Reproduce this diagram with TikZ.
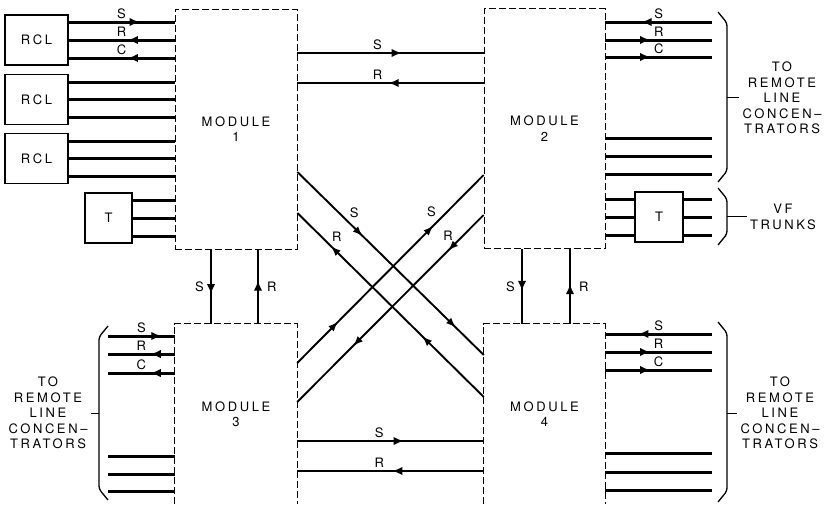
\documentclass[tikz,border=0pt]{standalone}
\usepackage{fontspec}
\setmainfont{TeX Gyre Heros}[LetterSpace=20]
\usetikzlibrary{arrows.meta,decorations.markings}

\begin{document}
\begin{tikzpicture}[x=1pt,y=-1pt, every node/.style={font=\fontsize{13}{15.5}\selectfont},
  module/.style={draw,dash pattern=on 7pt off 3pt,line width=0.8pt,minimum
  width=122pt,align=center}, box/.style={draw,line width=1.1pt,minimum
  width=63pt,minimum height=50pt}, tbox/.style={box,minimum width=47pt},
  feed/.style={line width=3pt}, link/.style={line width=2.3pt},
  cross/.style={line width=1.9pt},
  marr/.style={postaction={decorate},decoration={markings,mark=at position #1
  with {\arrow{Latex[length=10pt,width=8.5pt]}}}},
  marr2/.style 2 args={postaction={decorate},decoration={markings,mark=at
  position #1 with {\arrow{Latex[length=10pt,width=7.5pt]}},mark=at position #2
  with {\arrow{Latex[length=10pt,width=7.5pt]}}}}, lab/.style={inner sep=2pt},
  brc/.style={line width=1.3pt,rounded corners=3pt},
  note/.style={align=center}]
  \useasboundingbox (0,0) rectangle (830,504);
  \node[module,minimum height=240pt] (mod1) at (236,129) {MODULE\\1};
  \node[module,minimum height=240pt,minimum width=121pt] (mod2) at (544.5,128.5) {MODULE\\2};
  \node[align=center,minimum width=122pt,minimum height=180pt] (mod3) at (236,414) {MODULE\\3};
  \node[align=center,minimum width=121pt,minimum height=180pt] (mod4) at (544.5,414) {MODULE\\4};
  \draw[dash pattern=on 7pt off 3pt,line width=0.8pt] (mod3.south west) -- (mod3.north west) -- (mod3.north east) -- (mod3.south east);
  \draw[dash pattern=on 7pt off 3pt,line width=0.8pt] (mod4.south west) -- (mod4.north west) -- (mod4.north east) -- (mod4.south east);
  \node[box] (rcl1) at (36.5,40) {RCL}; \node[box] (rcl2) at (36.5,99.5) {RCL};
  \node[box] (rcl3) at (36.5,158.5) {RCL}; \node[tbox] (tb1) at (108.5,218) {T};
  \node[tbox,minimum width=48pt] (tb2) at (659,217) {T};
  \coordinate (ra) at (712,0); \coordinate (la) at (108,0);
  \draw[feed,marr=0.67] (rcl1.east |- 0,22) -- node[lab,above] {S} (mod1.west |- 0,22);
  \draw[feed,marr=0.44] (mod1.west |- 0,40) -- node[lab,above] {R} (rcl1.east |- 0,40);
  \draw[feed,marr=0.44] (mod1.west |- 0,58) -- node[lab,above] {C} (rcl1.east |- 0,58);
  \foreach \y in {82,99,117} \draw[feed] (rcl2.east |- 0,\y) -- (mod1.west |- 0,\y);
  \foreach \y in {141,158,176} \draw[feed] (rcl3.east |- 0,\y) -- (mod1.west |- 0,\y);
  \foreach \y in {200,218,236} \draw[feed] (tb1.east |- 0,\y) -- (mod1.west |- 0,\y);
  \draw[feed,marr=0.66] (ra |- 0,22) -- node[lab,above] {S} (mod2.east |- 0,22);
  \draw[feed,marr=0.42] (mod2.east |- 0,40) -- node[lab,above] {R} (ra |- 0,40);
  \draw[feed,marr=0.42] (mod2.east |- 0,57) -- node[lab,above] {C} (ra |- 0,57);
  \foreach \y in {138,156,174} \draw[feed] (mod2.east |- 0,\y) -- (ra |- 0,\y);
  \foreach \y in {199,217,235} {\draw[feed] (mod2.east |- 0,\y) -- (tb2.west |- 0,\y);
    \draw[feed] (tb2.east |- 0,\y) -- (ra |- 0,\y);}
  \draw[feed,marr=0.8] (la |- 0,336) -- node[lab,above] {S} (mod3.west |- 0,336);
  \draw[feed,marr=0.36] (mod3.west |- 0,354) -- node[lab,above] {R} (la |- 0,354);
  \draw[feed,marr=0.36] (mod3.west |- 0,373) -- node[lab,above] {C} (la |- 0,373);
  \foreach \y in {456,474,491} \draw[feed] (la |- 0,\y) -- (mod3.west |- 0,\y);
  \draw[feed,marr=0.69] (ra |- 0,334) -- node[lab,above] {S} (mod4.east |- 0,334);
  \draw[feed,marr=0.42] (mod4.east |- 0,352) -- node[lab,above] {R} (ra |- 0,352);
  \draw[feed,marr=0.42] (mod4.east |- 0,370) -- node[lab,above] {C} (ra |- 0,370);
  \foreach \y in {453,472,490} \draw[feed] (mod4.east |- 0,\y) -- (ra |- 0,\y);
  \draw[link,marr=0.56] (mod1.east |- 0,53) -- node[lab,above,pos=0.43] {S} (mod2.west |- 0,53);
  \draw[link,marr=0.51] (mod2.west |- 0,83) -- node[lab,above,pos=0.57] {R} (mod1.east |- 0,83);
  \draw[link,marr=0.57] (mod3.east |- 0,441) -- node[lab,above,pos=0.44] {S} (mod4.west |- 0,441);
  \draw[link,marr=0.49] (mod4.west |- 0,471) -- node[lab,above,pos=0.56] {R} (mod3.east |- 0,471);
  \draw[link,marr=0.6] (mod1.south -| 211,0) -- node[lab,left=4pt] {S} (mod3.north -| 211,0);
  \draw[link,marr=0.58] (mod3.north -| 258,0) -- node[lab,right=6pt] {R} (mod1.south -| 258,0);
  \draw[link,marr=0.56] (mod2.south -| 522,0) -- node[lab,left=4pt] {S} (mod4.north -| 522,0);
  \draw[link,marr=0.53] (mod4.north -| 570,0) -- node[lab,right=6pt] {R} (mod2.south -| 570,0);
  \draw[cross,marr2={0.35}{0.85}] (mod1.east |- 0,172) -- node[lab,above right,pos=0.265] {S} (mod4.west |- 0,355);
  \draw[cross,marr2={0.33}{0.82}] (mod4.west |- 0,397) -- node[lab,above right,pos=0.83] {R} (mod1.east |- 0,213);
  \draw[cross,marr2={0.22}{0.73}] (mod3.east |- 0,363) -- node[lab,above left,pos=0.76] {S} (mod2.west |- 0,175);
  \draw[cross,marr2={0.19}{0.70}] (mod2.west |- 0,215) -- node[lab,above left,pos=0.15] {R} (mod3.east |- 0,402);
  \node[note] (lblA) at (782,98) {TO\\REMOTE\\LINE\\CONCEN–\\TRATORS};
  \node[note] (lblB) at (783,217) {VF\\TRUNKS};
  \node[note] (lblC) at (780,413) {TO\\REMOTE\\LINE\\CONCEN–\\TRATORS};
  \node[note] (lblD) at (48,413) {TO\\REMOTE\\LINE\\CONCEN–\\TRATORS};
  \coordinate (bA1) at (718,12); \coordinate (bA2) at (718,182); \coordinate (tA) at (727,97);
  \coordinate (bB1) at (718,188); \coordinate (bB2) at (718,245); \coordinate (tB) at (727,216.5);
  \coordinate (bC1) at (718,322); \coordinate (bC2) at (718,502); \coordinate (tC) at (727,413);
  \coordinate (bD1) at (108,326); \coordinate (bD2) at (108,500); \coordinate (tD) at (99,413);
  \draw[brc] (bA1) -- ++(9,11) -- ([shift={(9,-11)}]bA2) -- (bA2);
  \draw[brc] (bB1) -- ++(9,11) -- ([shift={(9,-11)}]bB2) -- (bB2);
  \draw[brc] (bC1) -- ++(9,11) -- ([shift={(9,-11)}]bC2) -- (bC2);
  \draw[brc] (bD1) -- ++(-9,11) -- ([shift={(-9,-11)}]bD2) -- (bD2);
  \draw[line width=0.9pt] (tA) -- (tA -| lblA.west); \draw[line width=0.9pt] (tB) -- (tB -| lblB.west);
  \draw[line width=0.9pt] (tC) -- (tC -| lblC.west); \draw[line width=0.9pt] (tD) -- (tD -| lblD.east);
\end{tikzpicture}
\end{document}
